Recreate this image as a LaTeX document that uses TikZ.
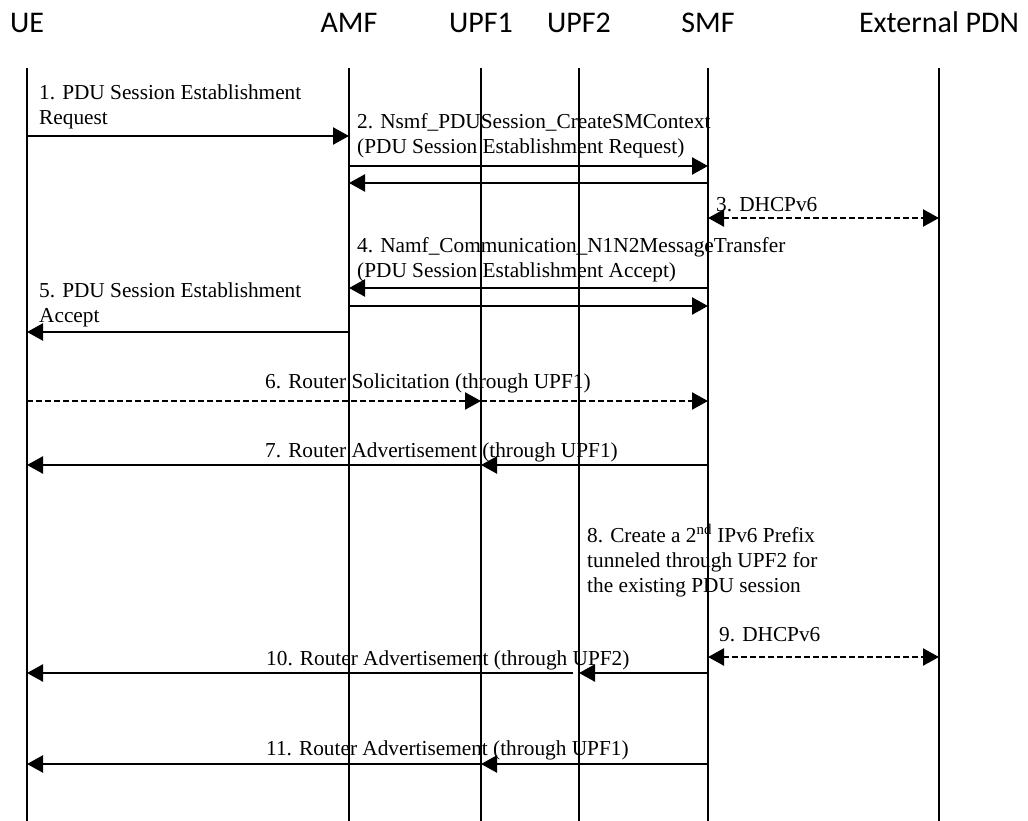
\documentclass[tikz,border=0pt]{standalone}
\usepackage{fontspec}
\newfontfamily\hdrfont{Carlito}
\newfontfamily\msgfont{Liberation Serif}
\usetikzlibrary{arrows.meta}
\newcommand{\lines}[1]{\begin{tabular}[t]{@{}l@{}}#1\end{tabular}}
\begin{document}
\begin{tikzpicture}[x=1pt,y=-1pt,
  hdr/.style={font=\hdrfont\fontsize{30}{36}\selectfont, inner sep=0pt, anchor=base},
  msg/.style={font=\msgfont\fontsize{21.3}{25}\selectfont, inner sep=0pt, anchor=base west},
  life/.style={line width=2pt},
  tip/.style={},
  sig/.style={line width=2.3pt, -{Triangle[length=16pt,width=17pt]}},
  dsig/.style={sig, dash pattern=on 6pt off 3pt},
  bsig/.style={line width=2.3pt, {Triangle[length=16pt,width=17pt]}-{Triangle[length=16pt,width=17pt]}, dash pattern=on 6pt off 3pt}
]
\useasboundingbox (0,0) rectangle (1028,821);

% lifeline tops
\coordinate (UE)   at (27,68);
\coordinate (AMF)  at (349,68);
\coordinate (UPF1) at (481,68);
\coordinate (UPF2) at (579,68);
\coordinate (SMF)  at (708,68);
\coordinate (PDN)  at (939,68);
\coordinate (bot)  at (0,821);

% headers
\node[hdr] (hUE)   at (27,33)  {UE};
\node[hdr] (hAMF)  at (349,33) {AMF};
\node[hdr] (hUPF1) at (481,33) {UPF1};
\node[hdr] (hUPF2) at (579,33) {UPF2};
\node[hdr] (hSMF)  at (708,33) {SMF};
\node[hdr] (hPDN)  at (939,33) {External PDN};

% lifelines
\foreach \n in {UE,AMF,UPF1,UPF2,SMF,PDN}
  \draw[life] (\n) -- (\n |- bot);

% message rows
\coordinate (m1)  at (0,136);
\coordinate (m2a) at (0,166);
\coordinate (m2b) at (0,183);
\coordinate (m3)  at (0,218);
\coordinate (m4a) at (0,288);
\coordinate (m4b) at (0,306);
\coordinate (m5)  at (0,332);
\coordinate (m6)  at (0,401);
\coordinate (m7)  at (0,465);
\coordinate (m9)  at (0,657);
\coordinate (m10) at (0,673);
\coordinate (m11) at (0,764);

% labels
\node[msg] (l1)  at (39,100)  {\lines{1. PDU Session Establishment\\Request}};
\node[msg] (l2)  at (357,129) {\lines{2. Nsmf\_PDUSession\_CreateSMContext\\(PDU Session Establishment Request)}};
\node[msg] (l3)  at (716,212) {3. DHCPv6};
\node[msg] (l4)  at (357,252) {\lines{4. Namf\_Communication\_N1N2MessageTransfer\\(PDU Session Establishment Accept)}};
\node[msg] (l5)  at (39,297)  {\lines{5. PDU Session Establishment\\Accept}};
\node[msg] (l6)  at (265,388) {6. Router Solicitation (through UPF1)};
\node[msg] (l7)  at (265,457) {7. Router Advertisement (through UPF1)};
\node[msg] (l8)  at (587,542) {\lines{8. Create a 2\textsuperscript{nd} IPv6 Prefix\\tunneled through UPF2 for\\the existing PDU session}};
\node[msg] (l9)  at (719,641) {9. DHCPv6};
\node[msg] (l10) at (266,665) {10. Router Advertisement (through UPF2)};
\node[msg] (l11) at (266,755) {11. Router Advertisement (through UPF1)};

% connectors
\draw[sig]  (UE |- m1)  -- (AMF |- m1);
\draw[sig]  (AMF |- m2a) -- (SMF |- m2a);
\draw[sig]  (SMF |- m2b) -- (AMF |- m2b);
\draw[bsig] (SMF |- m3)  -- (PDN |- m3);
\draw[sig]  (SMF |- m4a) -- (AMF |- m4a);
\draw[sig]  (AMF |- m4b) -- (SMF |- m4b);
\draw[sig]  (AMF |- m5)  -- (UE |- m5);
\draw[dsig] (UE |- m6)   -- (UPF1 |- m6);
\draw[dsig] (UPF1 |- m6) -- (SMF |- m6);
\draw[sig]  (SMF |- m7)  -- (UPF1 |- m7);
\draw[sig]  (UPF1 |- m7) -- (UE |- m7);
\draw[bsig] (SMF |- m9)  -- (PDN |- m9);
\draw[sig]  (SMF |- m10) -- (UPF2 |- m10);
\coordinate (g10) at ([xshift=-6pt]UPF2 |- m10);
\draw[sig]  (g10) -- (UE |- m10);
\draw[sig]  (SMF |- m11) -- (UPF1 |- m11);
\draw[sig]  (UPF1 |- m11) -- (UE |- m11);
\end{tikzpicture}
\end{document}
